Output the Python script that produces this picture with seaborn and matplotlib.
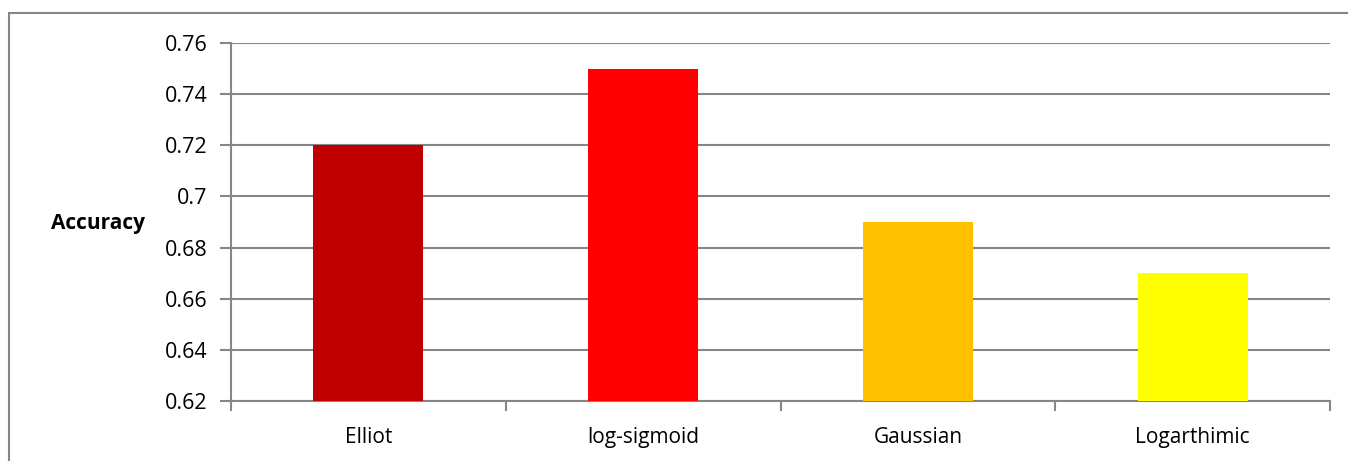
import matplotlib
matplotlib.use("Agg")
import matplotlib.pyplot as plt
import seaborn as sns
import pandas as pd
from matplotlib.lines import Line2D

categories = ["Elliot", "log-sigmoid", "Gaussian", "Logarthimic"]
accuracy = [0.72, 0.75, 0.69, 0.67]
colors = ["#C00000", "#FF0000", "#FFC000", "#FFFF00"]
yticks = [0.62, 0.64, 0.66, 0.68, 0.70, 0.72, 0.74, 0.76]
ytick_labels = ["0.62", "0.64", "0.66", "0.68", "0.7", "0.72", "0.74", "0.76"]

sns.set_theme(style="white")
plt.rcParams['font.family'] = ['Open Sans', 'DejaVu Sans']
plt.rcParams['text.color'] = 'black'
plt.rcParams['axes.labelcolor'] = 'black'
plt.rcParams['xtick.color'] = 'black'
plt.rcParams['ytick.color'] = 'black'

df = pd.DataFrame({"cat": categories, "acc": accuracy})

fig = plt.figure(figsize=(13.48, 4.61), dpi=100)
ax = fig.add_axes([231/1348, 1-401/461, (1330-231)/1348, (401-43)/461])

sns.barplot(data=df, x="cat", y="acc", hue="cat", palette=colors, width=0.4,
            legend=False, ax=ax, saturation=1, zorder=3, linewidth=0, edgecolor="none")

ax.set_ylim(0.62, 0.76)
ax.set_xlim(-0.5, 3.5)
ax.set_yticks(yticks)
ax.set_yticklabels(ytick_labels, fontsize=15.5)
ax.set_xticks(range(len(categories)))
ax.set_xticklabels(categories, fontsize=15)
ax.set_xticks([-0.5, 0.5, 1.5, 2.5, 3.5], minor=True)
ax.tick_params(axis="x", which="major", bottom=False, length=0, pad=19, labelcolor="black")
ax.tick_params(axis="x", which="minor", bottom=True, length=7, width=1.5, color="#868686", direction="out")
ax.tick_params(axis="y", which="major", left=True, length=8, width=1.5, color="#868686",
               direction="out", pad=9, labelcolor="black")

ax.yaxis.grid(True, color="#868686", linewidth=1.5, zorder=0)
ax.set_axisbelow(True)
for s in ["top", "right"]:
    ax.spines[s].set_visible(False)
for s in ["left", "bottom"]:
    ax.spines[s].set_color("#868686")
    ax.spines[s].set_linewidth(1.5)

ax.set_xlabel("")
ax.set_ylabel("Accuracy", fontsize=15, fontweight="bold", rotation=0, ha="right", va="center", color="black")
ax.yaxis.set_label_coords((145-231)/1099, (401-223)/358)

# outer chart border (top and left)
top = 1 - 13/461
left = 9/1348
fig.add_artist(Line2D([left, 1.0], [top, top], transform=fig.transFigure, color="#868686", linewidth=1.5))
fig.add_artist(Line2D([left, left], [0.0, top], transform=fig.transFigure, color="#868686", linewidth=1.5))

fig.savefig("out.png", dpi=100)
